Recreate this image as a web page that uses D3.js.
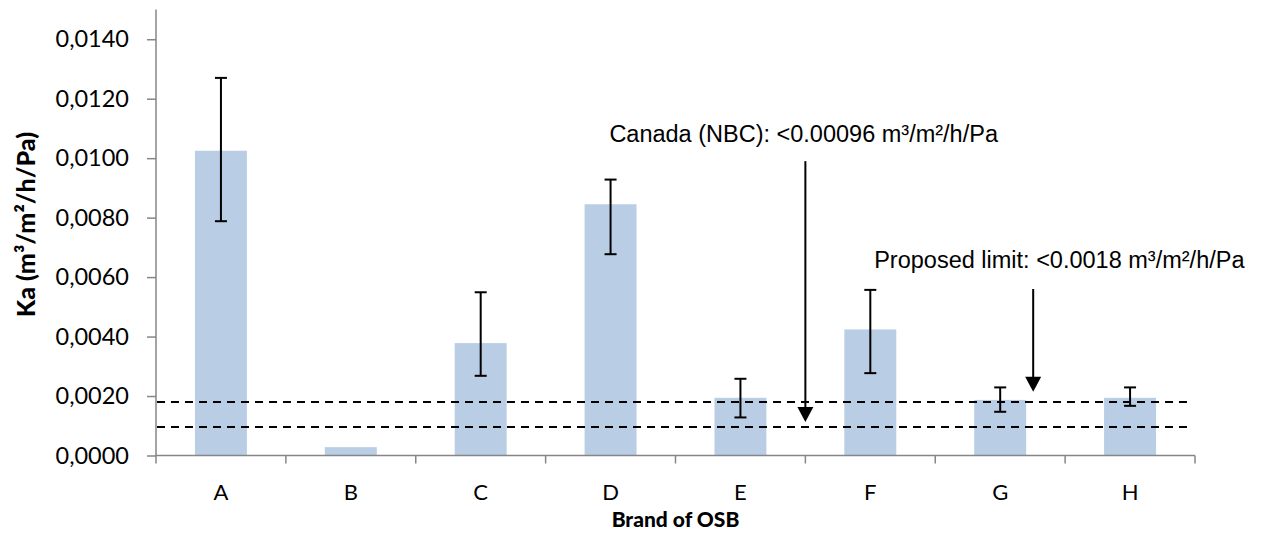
<!DOCTYPE html>
<html>
<head>
<meta charset="utf-8">
<script src="https://cdn.jsdelivr.net/npm/d3@7"></script>
<style>
  html, body { margin: 0; padding: 0; background: #fff; }
  svg { display: block; }
</style>
</head>
<body>
<svg id="chart" width="1263" height="533"></svg>
<script>
// ---- data ----
const categories = ["A", "B", "C", "D", "E", "F", "G", "H"];
const values     = [0.01025, 0.00028, 0.00378, 0.00845, 0.00194, 0.00424, 0.00187, 0.00194];
const errUpper   = [0.01270, null,    0.00549, 0.00928, 0.00258, 0.00557, 0.00229, 0.00229];
const errLower   = [0.00788, null,    0.00268, 0.00677, 0.00128, 0.00277, 0.00147, 0.00167];
const yTicks     = [0, 0.002, 0.004, 0.006, 0.008, 0.010, 0.012, 0.014];
const limits     = [0.0018, 0.00096];
const yMax       = 0.015;
const yTitle     = "Ka (m³/m²/h/Pa)";
const xTitle     = "Brand of OSB";
const noteCanada   = "Canada (NBC): <0.00096 m³/m²/h/Pa";
const noteProposed = "Proposed limit: <0.0018 m³/m²/h/Pa";

// ---- layout ----
const svg = d3.select("#chart");
const pLeft = 156, pRight = 1195, pTop = 9.5, pBottom = 455.5;

const x = d3.scaleBand().domain(categories).range([pLeft, pRight])
  .paddingInner(0.6).paddingOuter(0.3);
const y = d3.scaleLinear().domain([0, yMax]).range([pBottom, pTop]);
const step = x.step();
const boundary = i => pLeft + i * step; // boundaries between category slots

const axisColor = "#868686";
const tickFont = "Lato, 'Open Sans', sans-serif";

// bars
svg.append("g").selectAll("rect").data(categories).join("rect")
  .attr("x", d => x(d))
  .attr("width", x.bandwidth())
  .attr("y", (d, i) => y(values[i]))
  .attr("height", (d, i) => y(0) - y(values[i]))
  .attr("fill", "#b9cde5");

// error bars
const eb = svg.append("g").attr("stroke", "#000").attr("stroke-width", 2);
categories.forEach((c, i) => {
  if (errUpper[i] == null) return;
  const cx = x(c) + x.bandwidth() / 2;
  eb.append("line").attr("x1", cx).attr("x2", cx).attr("y1", y(errUpper[i])).attr("y2", y(errLower[i]));
  [errUpper[i], errLower[i]].forEach(v => {
    eb.append("line").attr("x1", cx - 6).attr("x2", cx + 6).attr("y1", y(v)).attr("y2", y(v));
  });
});

// dashed limit lines
svg.append("g").selectAll("line").data(limits).join("line")
  .attr("x1", pLeft + 1).attr("x2", pRight - 8)
  .attr("y1", d => y(d)).attr("y2", d => y(d))
  .attr("stroke", "#000").attr("stroke-width", 2)
  .attr("stroke-dasharray", "8,6");

// y axis
const yAxis = svg.append("g").attr("transform", `translate(${pLeft},0)`)
  .call(d3.axisLeft(y).tickValues(yTicks).tickSize(9).tickPadding(18)
    .tickFormat(d => d3.format(".4f")(d).replace(".", ",")));
yAxis.select(".domain").attr("stroke", axisColor).attr("stroke-width", 1.5)
  .attr("d", `M0,${pBottom}V${pTop}`);
yAxis.selectAll(".tick line").attr("stroke", axisColor).attr("stroke-width", 1.5);
yAxis.selectAll(".tick text").attr("font-family", tickFont).attr("font-size", 23.5).attr("fill", "#000");

// x axis
const xAxis = svg.append("g").attr("transform", `translate(0,${pBottom})`)
  .call(d3.axisBottom(x).tickSize(0).tickPadding(29));
xAxis.select(".domain").remove();
xAxis.selectAll(".tick text").attr("font-family", tickFont).attr("font-size", 22).attr("fill", "#000");
xAxis.append("line").attr("x1", pLeft - 1).attr("x2", pRight).attr("y1", 0).attr("y2", 0)
  .attr("stroke", axisColor).attr("stroke-width", 1.5);
xAxis.selectAll(".bnd").data(d3.range(categories.length + 1)).join("line")
  .attr("class", "bnd")
  .attr("x1", i => boundary(i)).attr("x2", i => boundary(i))
  .attr("y1", 0).attr("y2", 8)
  .attr("stroke", axisColor).attr("stroke-width", 1.5);

// axis titles
svg.append("text")
  .attr("transform", `translate(35,${(pTop + pBottom) / 2 - 8}) rotate(-90)`)
  .attr("text-anchor", "middle")
  .attr("font-family", tickFont).attr("font-weight", "900").attr("font-size", 25)
  .text(yTitle);
svg.append("text")
  .attr("x", (pLeft + pRight) / 2).attr("y", 527)
  .attr("text-anchor", "middle")
  .attr("font-family", tickFont).attr("font-weight", "900").attr("font-size", 21)
  .text(xTitle);

// annotations (positioned in data space)
const noteFont = "'Liberation Sans', Arial, sans-serif";
const arrows = [
  { x: boundary(5), y1: 0.0099, y2: 0.00113 },
  { x: x("G") + x.bandwidth() / 2 + 33, y1: 0.0056, y2: 0.00214 }
];
const notes = [
  { x: boundary(5) - 196, y: 0.01055, text: noteCanada },
  { x: x("G") + x.bandwidth() / 2 - 126, y: 0.00630, text: noteProposed }
];
const ag = svg.append("g");
arrows.forEach(a => {
  const ty = y(a.y2);
  ag.append("line").attr("x1", a.x).attr("x2", a.x).attr("y1", y(a.y1)).attr("y2", ty - 12)
    .attr("stroke", "#000").attr("stroke-width", 2);
  ag.append("path").attr("d", `M${a.x - 8},${ty - 15}L${a.x + 8},${ty - 15}L${a.x},${ty}Z`).attr("fill", "#000");
});
svg.append("g").selectAll("text").data(notes).join("text")
  .attr("x", d => d.x).attr("y", d => y(d.y))
  .attr("font-family", noteFont).attr("font-size", 23.5).attr("fill", "#000")
  .text(d => d.text);
</script>
</body>
</html>
